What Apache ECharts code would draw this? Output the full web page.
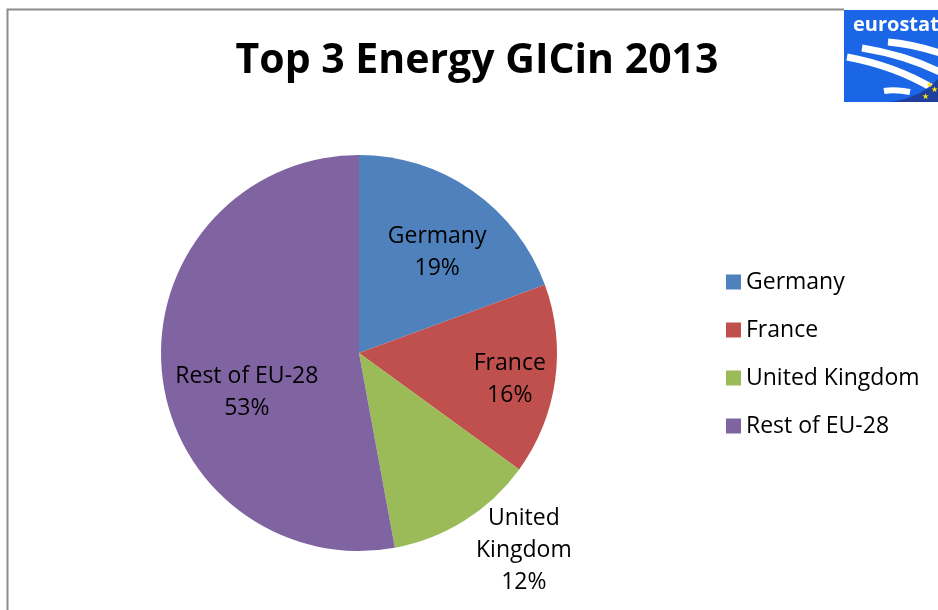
<!DOCTYPE html>
<html>
<head>
<meta charset="utf-8">
<script src="https://cdn.jsdelivr.net/npm/echarts@6/dist/echarts.min.js"></script>
<style>html,body{margin:0;padding:0;background:#fff}#c{width:938px;height:610px}</style>
</head>
<body>
<div id="c"></div>
<script>
const categories = ['Germany', 'France', 'United Kingdom', 'Rest of EU-28'];
const values = [19.4, 15.6, 12.1, 52.9];
const labelTexts = ['Germany', 'France', 'United\nKingdom', 'Rest of EU-28'];
const colors = ['#4F81BD', '#C0504D', '#9BBB59', '#8064A2'];
const labelRadius = [0.645, 0.773, 1.30, 0.60];
const labelAngleShift = [2.8, 2.0, -7.6, -14.0];

const FONT = '"Open Sans", sans-serif';
const CX = 359, CY = 353, R = 198;
const total = values.reduce((a, b) => a + b, 0);
const midAngles = [];
let acc = 0;
values.forEach(v => { midAngles.push((acc + v / 2) / total * 2 * Math.PI); acc += v; });

const chart = echarts.init(document.getElementById('c'), null, {renderer: 'canvas'});
chart.setOption({
  backgroundColor: '#fff',
  animation: false,
  title: {
    text: 'Top 3 Energy GICin 2013',
    left: 472, top: 36, textAlign: 'center',
    textStyle: {fontFamily: FONT, fontWeight: 'bold', fontSize: 41, color: '#000'}
  },
  legend: {
    orient: 'vertical', left: 721, top: 265,
    icon: 'rect', itemWidth: 15, itemHeight: 15, itemGap: 24,
    textStyle: {fontFamily: FONT, fontSize: 23, color: '#000', lineHeight: 24},
    data: categories
  },
  graphic: [
    {type: 'polyline', shape: {points: [[7.5, 610], [7.5, 9.5], [844, 9.5]]}, style: {stroke: '#8c8c8c', lineWidth: 2, fill: null}},
    {type: 'group', children: [
      {type: 'rect', shape: {x: 844, y: 10, width: 94, height: 92}, style: {fill: '#1a66e6'}},
      {type: 'bezierCurve', shape: {x1: 888, y1: 42, cpx1: 912, cpy1: 44, x2: 940, y2: 53}, style: {stroke: '#fff', lineWidth: 7, fill: null}},
      {type: 'bezierCurve', shape: {x1: 862, y1: 48, cpx1: 905, cpy1: 55, x2: 940, y2: 72}, style: {stroke: '#fff', lineWidth: 7, fill: null}},
      {type: 'bezierCurve', shape: {x1: 847, y1: 57, cpx1: 895, cpy1: 66, x2: 932, y2: 88}, style: {stroke: '#fff', lineWidth: 7, fill: null}},
      {type: 'bezierCurve', shape: {x1: 884, y1: 91, cpx1: 895, cpy1: 89, x2: 910, y2: 92}, style: {stroke: '#fff', lineWidth: 6, fill: null}},
      {type: 'polygon', shape: {points: [[890, 102], [905, 99], [920, 93], [932, 85], [938, 79], [938, 102]]}, style: {fill: '#1f3f9e'}},
      {type: 'text', style: {x: 926, y: 81, text: '★', fill: '#ffe600', font: '8px sans-serif'}},
      {type: 'text', style: {x: 931, y: 86, text: '★', fill: '#ffe600', font: '8px sans-serif'}},
      {type: 'text', style: {x: 922, y: 93, text: '★', fill: '#ffe600', font: '8px sans-serif'}},
      {type: 'text', style: {x: 853, y: 15, text: 'eurostat', fill: '#fff', font: 'bold 20px "Open Sans", sans-serif'}}
    ]}
  ],
  series: [{
    type: 'pie',
    center: [CX, CY],
    radius: R,
    startAngle: 90,
    clockwise: true,
    avoidLabelOverlap: false,
    itemStyle: {borderColor: '#fff', borderWidth: 0},
    label: {
      show: true, position: 'inside', color: '#000',
      fontFamily: FONT, fontSize: 23, lineHeight: 32, align: 'center',
      formatter: p => labelTexts[p.dataIndex] + '\n' + Math.round(p.value / total * 100) + '%'
    },
    labelLine: {show: false},
    labelLayout: p => {
      const a = midAngles[p.dataIndex] + labelAngleShift[p.dataIndex] * Math.PI / 180;
      const f = labelRadius[p.dataIndex];
      return {
        x: CX + f * R * Math.sin(a),
        y: CY - f * R * Math.cos(a),
        align: 'center', verticalAlign: 'middle'
      };
    },
    emphasis: {disabled: true},
    data: categories.map((c, i) => ({name: c, value: values[i], itemStyle: {color: colors[i]}}))
  }]
});
</script>
</body>
</html>
